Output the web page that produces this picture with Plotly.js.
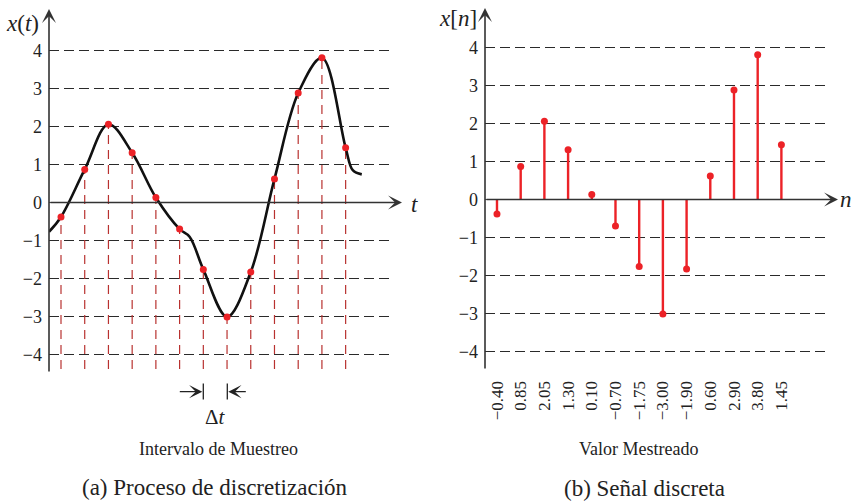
<!DOCTYPE html>
<html>
<head>
<meta charset="utf-8">
<script src="https://cdn.plot.ly/plotly-3.0.1.min.js"></script>
<style>html,body{margin:0;padding:0;background:#fff;}#chart{width:853px;height:503px;}</style>
</head>
<body>
<div id="chart"></div>
<script>
// ---- data ----
const sampleIndex = [1, 2, 3, 4, 5, 6, 7, 8, 9, 10, 11, 12, 13];
const sampleValues = [-0.38, 0.87, 2.06, 1.31, 0.13, -0.70, -1.76, -3.01, -1.83, 0.62, 2.88, 3.81, 1.44];
const sampleLabels = ["\u22120.40", "0.85", "2.05", "1.30", "0.10", "\u22120.70", "\u22121.75", "\u22123.00", "\u22121.90", "0.60", "2.90", "3.80", "1.45"];
// continuous signal
const curveT = [0.494, 1, 2, 3, 4, 5, 6, 6.42, 7, 8, 9, 10, 11, 12, 13, 13.3, 13.68];
const curveV = [-0.77, -0.38, 0.87, 2.06, 1.31, 0.13, -0.70, -0.90, -1.76, -3.01, -1.83, 0.62, 2.88, 3.81, 1.44, 0.85, 0.74];
const yTicks = [-4, -3, -2, -1, 0, 1, 2, 3, 4];

// ---- helpers ----
const W = 853, H = 503;
const px = v => v / W;
const py = v => 1 - v / H;
const serif = "Liberation Serif";
const RED = "#ec2227";
const DRED = "#b8312f";
const baseY = -4.38;

// vertical dashed sample lines (left)
const vx = [], vy = [];
sampleIndex.forEach((n, i) => { vx.push(n, n, null); vy.push(baseY, sampleValues[i], null); });
// stems (right)
const sx = [], sy = [];
sampleIndex.forEach((n, i) => { sx.push(n, n, null); sy.push(0, sampleValues[i], null); });

const traces = [
  {x: vx, y: vy, xaxis: 'x', yaxis: 'y', mode: 'lines', line: {color: DRED, width: 1.2, dash: '9px,6px'}, hoverinfo: 'skip'},
  {x: curveT, y: curveV, xaxis: 'x', yaxis: 'y', mode: 'lines', line: {color: '#111', width: 2.6, shape: 'spline', smoothing: 1}},
  {x: sampleIndex, y: sampleValues, xaxis: 'x', yaxis: 'y', mode: 'markers', marker: {color: RED, size: 7}},
  {x: sx, y: sy, xaxis: 'x2', yaxis: 'y2', mode: 'lines', line: {color: RED, width: 2.4}},
  {x: sampleIndex, y: sampleValues, xaxis: 'x2', yaxis: 'y2', mode: 'markers', marker: {color: RED, size: 7}}
];

const yCommon = {
  range: [-4.5, 4.8], tickvals: yTicks, ticks: '', showline: false,
  showgrid: true, gridcolor: '#2a2a2a', gridwidth: 1.3, griddash: '10px,5px',
  zeroline: true, zerolinecolor: '#5a5a5a', zerolinewidth: 1.8,
  tickfont: {family: serif, size: 18, color: '#222'}, ticklabelstandoff: 6,
  automargin: false, fixedrange: true
};

function arrow(hx, hy, axp, ayp) {
  return {xref: 'paper', yref: 'paper', x: px(hx), y: py(hy), ax: axp, ay: ayp, text: '',
          showarrow: true, arrowhead: 3, arrowsize: 1.45, arrowwidth: 1.6, arrowcolor: '#333', standoff: 0, startstandoff: 0};
}
function label(x, y, text, size, extra) {
  return Object.assign({xref: 'paper', yref: 'paper', x: px(x), y: py(y), text: text, showarrow: false,
          xanchor: 'center', yanchor: 'middle', font: {family: serif, size: size, color: '#222'}}, extra || {});
}

const layout = {
  width: W, height: H, margin: {l: 0, r: 0, t: 0, b: 0},
  font: {family: serif},
  paper_bgcolor: '#fff', plot_bgcolor: 'rgba(0,0,0,0)', showlegend: false,
  xaxis: {domain: [px(49), px(390)], range: [0.494, 14.87], anchor: 'y', showgrid: false, zeroline: false,
          showticklabels: false, ticks: '', showline: false, fixedrange: true},
  yaxis: Object.assign({}, yCommon, {domain: [py(373.5), py(20.1)], anchor: 'x'}),
  xaxis2: {domain: [px(485), px(825)], range: [0.494, 14.84], anchor: 'y2', showgrid: false, zeroline: false,
           tickvals: sampleIndex, ticktext: sampleLabels, tickangle: -90, ticks: '', showline: false,
           tickfont: {family: serif, size: 17, color: '#222'}, ticklabelstandoff: 6, automargin: false, fixedrange: true},
  yaxis2: Object.assign({}, yCommon, {domain: [py(370.5), py(17.1)], anchor: 'x2'}),
  shapes: [
    {type: 'line', xref: 'paper', yref: 'paper', x0: px(203.3), x1: px(203.3), y0: py(383.5), y1: py(399.5), line: {color: '#222', width: 1.3}},
    {type: 'line', xref: 'paper', yref: 'paper', x0: px(227.3), x1: px(227.3), y0: py(383.5), y1: py(399.5), line: {color: '#222', width: 1.3}}
  ],
  annotations: [
    arrow(49, 9, 0, 364),
    arrow(402, 202.5, -353, 0),
    arrow(485, 8, 0, 362),
    arrow(838, 199.5, -353, 0),
    Object.assign(arrow(202.3, 391.7, -24, 0), {arrowcolor: '#222', arrowwidth: 1.3, arrowsize: 1.7}),
    Object.assign(arrow(228.3, 391.7, 19, 0), {arrowcolor: '#222', arrowwidth: 1.3, arrowsize: 1.7}),
    label(22.5, 23, '<i>x</i>(<i>t</i>)', 23),
    label(458, 18, '<i>x</i>[<i>n</i>]', 23),
    label(414, 204, '<i>t</i>', 23),
    label(846, 199, '<i>n</i>', 23),
    label(215.5, 416.5, '\u0394<i>t</i>', 21),
    label(218, 448.5, 'Intervalo de Muestreo', 18),
    label(638.5, 449, 'Valor Mestreado', 18),
    label(215.5, 487.5, '(a) Proceso de discretización', 23),
    label(644, 488, '(b) Señal discreta', 23)
  ]
};

Plotly.newPlot('chart', traces, layout, {staticPlot: true, displayModeBar: false});
</script>
</body>
</html>
